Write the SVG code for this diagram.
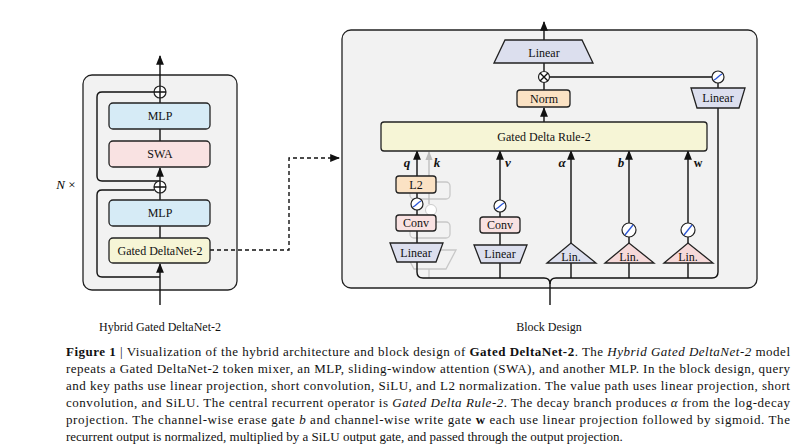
<svg xmlns="http://www.w3.org/2000/svg" width="800" height="445" viewBox="0 0 800 445">
<defs>
<marker id="ah" viewBox="0 0 10 10" refX="9" refY="5" markerWidth="7" markerHeight="7" orient="auto-start-reverse"><path d="M0,1 L10,5 L0,9 z" fill="#111"/></marker>
<marker id="ahg" viewBox="0 0 10 10" refX="9" refY="5" markerWidth="7" markerHeight="7" orient="auto"><path d="M0,1 L10,5 L0,9 z" fill="#bbb"/></marker>
<style>
.panel{fill:#f2f2f2;stroke:#222;stroke-width:1.3}
.box{stroke:#222;stroke-width:1.3}
.blue{fill:#d6ebf6}.pink{fill:#f9e2e2}.yel{fill:#f6f5d6}.ora{fill:#fbe2c4}.lav{fill:#dcdfee}.lpink{fill:#f6d9d9}
.ln{fill:none;stroke:#111;stroke-width:1.4}
.gl{fill:none;stroke:#c8c8c8;stroke-width:1.3}
text{font-family:"Liberation Serif","Times New Roman",Tinos,Times,serif}
.t{font-size:12px;fill:#111;text-anchor:middle}
.ti{font-size:13px;font-style:italic;font-weight:bold;fill:#111;text-anchor:middle}
.cap{font-size:13px;fill:#111}
.sil{fill:#fff;stroke:#222;stroke-width:1.2}
.sc{fill:none;stroke:#2a55d8;stroke-width:1.3}
</style>
</defs>
<g id="left-panel">
<rect class="panel" x="83" y="75" width="154" height="215" rx="9"/>
<text class="t" x="160" y="331" font-size="12.5">Hybrid Gated DeltaNet-2</text>
<text x="66" y="189" font-size="13" text-anchor="middle"><tspan font-style="italic">N</tspan> ×</text>
</g>
<g id="connectors-left">
<line class="ln" x1="160" y1="305" x2="160" y2="264" marker-end="url(#ah)"/>
<line class="ln" x1="160" y1="238" x2="160" y2="226"/>
<line class="ln" x1="160" y1="200" x2="160" y2="193"/>
<line class="ln" x1="160" y1="181" x2="160" y2="168" marker-end="url(#ah)"/>
<line class="ln" x1="160" y1="141" x2="160" y2="129"/>
<line class="ln" x1="160" y1="103" x2="160" y2="98"/>
<line class="ln" x1="160" y1="86" x2="160" y2="56" marker-end="url(#ah)"/>
<path class="ln" d="M160,277 H102 Q97,277 97,272 V195 Q97,190 102,190 H154"/>
<path class="ln" d="M160,181 H102 Q97,181 97,176 V97 Q97,92 102,92 H154"/>
<circle class="sil" cx="160" cy="187" r="6"/><path class="ln" d="M154,187 H166 M160,181 V193"/>
<circle class="sil" cx="160" cy="92" r="6"/><path class="ln" d="M154,92 H166 M160,86 V98"/>
<path d="M210,250 H289 V158 H339" fill="none" stroke="#111" stroke-width="1.4" stroke-dasharray="4,3" marker-end="url(#ah)"/>
</g>
<g id="mlp-top"><rect class="box blue" x="109" y="103" width="101" height="26" rx="4"/><text class="t" x="160" y="120">MLP</text></g>
<g id="swa"><rect class="box pink" x="109" y="141" width="101" height="26" rx="4"/><text class="t" x="160" y="158">SWA</text></g>
<g id="mlp-bot"><rect class="box blue" x="109" y="200" width="101" height="26" rx="4"/><text class="t" x="160" y="217">MLP</text></g>
<g id="gdn"><rect class="box yel" x="109" y="238" width="101" height="25" rx="4"/><text class="t" x="160" y="255">Gated DeltaNet-2</text></g>

<g id="right-panel">
<rect class="panel" x="342" y="30" width="415" height="258" rx="9"/>
<text class="t" x="549" y="331" font-size="12.5">Block Design</text>
</g>
<g id="ghost-k">
<rect x="410" y="182" width="40" height="17" rx="4" class="gl"/>
<circle cx="431" cy="210" r="5.5" fill="#fff" stroke="#ccc" stroke-width="1"/>
<rect x="410" y="222" width="40" height="16" rx="4" class="gl"/>
<path d="M404,250 H456 L446,269 H414 Z" class="gl"/>
<line x1="429" y1="269" x2="429" y2="278" class="gl"/>
<line x1="429" y1="204" x2="429" y2="152" stroke="#bbb" stroke-width="1.3" marker-end="url(#ahg)"/>
</g>
<g id="connectors-right">
<path class="ln" d="M550,305 V284 Q550,278 544,278 H423 Q417,278 417,272 V262"/>
<path class="ln" d="M550,284 Q550,278 556,278 H712 Q718,278 718,272 V108"/>
<line class="ln" x1="500" y1="278" x2="500" y2="263"/>
<line class="ln" x1="571" y1="278" x2="571" y2="263"/>
<line class="ln" x1="629" y1="278" x2="629" y2="263"/>
<line class="ln" x1="688" y1="278" x2="688" y2="263"/>
<line class="ln" x1="417" y1="243" x2="417" y2="231"/>
<line class="ln" x1="417" y1="215" x2="417" y2="210"/>
<line class="ln" x1="417" y1="198" x2="417" y2="193"/>
<line class="ln" x1="417" y1="176" x2="417" y2="151" marker-end="url(#ah)"/>
<line class="ln" x1="500" y1="245" x2="500" y2="233"/>
<line class="ln" x1="500" y1="217" x2="500" y2="212"/>
<line class="ln" x1="500" y1="200" x2="500" y2="151" marker-end="url(#ah)"/>
<line class="ln" x1="571" y1="243" x2="571" y2="151" marker-end="url(#ah)"/>
<line class="ln" x1="629" y1="250" x2="629" y2="237"/>
<line class="ln" x1="629" y1="223" x2="629" y2="151" marker-end="url(#ah)"/>
<line class="ln" x1="688" y1="250" x2="688" y2="237"/>
<line class="ln" x1="688" y1="223" x2="688" y2="151" marker-end="url(#ah)"/>
<line class="ln" x1="544" y1="122" x2="544" y2="108" marker-end="url(#ah)"/>
<line class="ln" x1="544" y1="90" x2="544" y2="82"/>
<line class="ln" x1="544" y1="71" x2="544" y2="63"/>
<line class="ln" x1="544" y1="40" x2="544" y2="22" marker-end="url(#ah)"/>
<line class="ln" x1="549" y1="77" x2="712" y2="77"/>
<line class="ln" x1="718" y1="83" x2="718" y2="88"/>
<circle class="sil" cx="544" cy="77" r="5.5"/><path class="ln" d="M540,73 L548,81 M548,73 L540,81"/>
</g>
<g id="out-linear"><path class="box lav" d="M494,63 L505,40 H582 L593,63 Z"/><text class="t" x="544" y="57" font-size="13">Linear</text></g>
<g id="norm"><rect class="box ora" x="517" y="90" width="53" height="17" rx="3"/><text class="t" x="544" y="103">Norm</text></g>
<g id="gate-silu"><circle class="sil" cx="718" cy="77" r="6"/><path class="sc" d="M714,80 Q716,79 718,77 Q720,75 722,74"/></g>
<g id="gate-linear"><path class="box lav" d="M691,88 H745 L739,108 H697 Z"/><text class="t" x="718" y="102">Linear</text></g>
<g id="gdr"><rect class="box yel" x="381" y="122" width="326" height="29" rx="3"/><text class="t" x="544" y="141">Gated Delta Rule-2</text></g>
<g id="labels">
<text class="ti" x="407" y="167">q</text>
<text class="ti" x="437" y="167">k</text>
<text class="ti" x="508" y="167">v</text>
<text class="ti" x="562" y="167">α</text>
<text class="ti" x="621" y="167">b</text>
<text class="t" x="698" y="167" font-weight="bold" font-size="13">w</text>
</g>
<g id="q-l2"><rect class="box ora" x="396" y="176" width="40" height="17" rx="3"/><text class="t" x="416" y="189">L2</text></g>
<g id="q-silu"><circle class="sil" cx="417" cy="204" r="6"/><path class="sc" d="M413,207 Q415,206 417,204 Q419,202 421,201"/></g>
<g id="q-conv"><rect class="box pink" x="396" y="215" width="40" height="16" rx="3"/><text class="t" x="416" y="227" font-size="11">Conv</text></g>
<g id="q-linear"><path class="box lav" d="M390,243 H443 L436,262 H397 Z"/><text class="t" x="416" y="257">Linear</text></g>
<g id="v-silu"><circle class="sil" cx="500" cy="206" r="6"/><path class="sc" d="M496,209 Q498,208 500,206 Q502,204 504,203"/></g>
<g id="v-conv"><rect class="box pink" x="480" y="217" width="40" height="16" rx="3"/><text class="t" x="500" y="229" font-size="11">Conv</text></g>
<g id="v-linear"><path class="box lav" d="M474,245 H527 L520,263 H481 Z"/><text class="t" x="500" y="258">Linear</text></g>
<g id="a-lin"><path class="box lav" d="M547,263 L571,243 L596,263 Z"/><text class="t" x="571" y="261" font-size="11">Lin.</text></g>
<g id="b-silu"><circle class="sil" cx="629" cy="230" r="7"/><path class="sc" d="M625,235 L633,225"/></g>
<g id="b-lin"><path class="box lpink" d="M605,263 L629,243 L654,263 Z"/><text class="t" x="629" y="261" font-size="11">Lin.</text></g>
<g id="w-silu"><circle class="sil" cx="688" cy="230" r="7"/><path class="sc" d="M684,235 L692,225"/></g>
<g id="w-lin"><path class="box lpink" d="M664,263 L688,243 L713,263 Z"/><text class="t" x="688" y="261" font-size="11">Lin.</text></g>
<g id="caption" class="cap">
<text class="cap" x="66" y="356" textLength="724" lengthAdjust="spacing"><tspan font-weight="bold">Figure 1</tspan> | Visualization of the hybrid architecture and block design of <tspan font-weight="bold">Gated DeltaNet-2</tspan>. The <tspan font-style="italic">Hybrid Gated DeltaNet-2</tspan> model</text>
<text class="cap" x="66" y="373" textLength="724" lengthAdjust="spacing">repeats a Gated DeltaNet-2 token mixer, an MLP, sliding-window attention (SWA), and another MLP. In the block design, query</text>
<text class="cap" x="66" y="390" textLength="724" lengthAdjust="spacing">and key paths use linear projection, short convolution, SiLU, and L2 normalization. The value path uses linear projection, short</text>
<text class="cap" x="66" y="407" textLength="724" lengthAdjust="spacing">convolution, and SiLU. The central recurrent operator is <tspan font-style="italic">Gated Delta Rule-2</tspan>. The decay branch produces <tspan font-style="italic">α</tspan> from the log-decay</text>
<text class="cap" x="66" y="424" textLength="724" lengthAdjust="spacing">projection. The channel-wise erase gate <tspan font-style="italic">b</tspan> and channel-wise write gate <tspan font-weight="bold">w</tspan> each use linear projection followed by sigmoid. The</text>
<text class="cap" x="66" y="441">recurrent output is normalized, multiplied by a SiLU output gate, and passed through the output projection.</text>
</g>
</svg>
